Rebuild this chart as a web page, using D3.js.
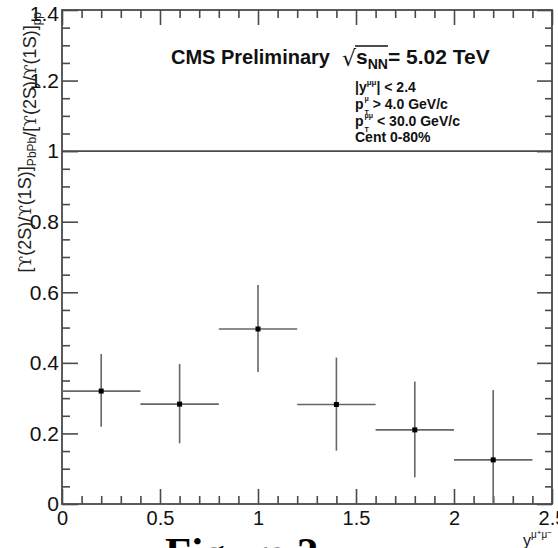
<!DOCTYPE html>
<html><head><meta charset="utf-8">
<script src="https://cdn.jsdelivr.net/npm/d3@7"></script>
<style>
html,body{margin:0;padding:0;background:#fff;overflow:hidden}
svg{display:block}
text{font-family:"Liberation Sans",Arial,Helvetica,sans-serif;white-space:pre}
</style></head>
<body>
<svg id="c" width="558" height="548"></svg>
<script>
// ---- data ----
const binCenters   = [0.2, 0.6, 1.0, 1.4, 1.8, 2.2];
const binHalfWidth = [0.2, 0.2, 0.2, 0.2, 0.2, 0.2];
const ratio        = [0.320, 0.283, 0.496, 0.282, 0.210, 0.125];
const errUp        = [0.105, 0.114, 0.125, 0.133, 0.137, 0.198];
const errDown      = [0.101, 0.111, 0.122, 0.131, 0.134, 0.198];
const xTicks       = [0, 0.5, 1, 1.5, 2, 2.5];
const xTickLabels  = ["0", "0.5", "1", "1.5", "2", "2.5"];
const yTicks       = [0, 0.2, 0.4, 0.6, 0.8, 1, 1.2, 1.4];
const yTickLabels  = ["0", "0.2", "0.4", "0.6", "0.8", "1", "1.2", "1.4"];
const refLine      = [1.0];

// ---- layout ----
const L = 62, R = 552, T = 10, B = 504;
const svg = d3.select("#c");
const x = d3.scaleLinear().domain([0, 2.5]).range([L, R]);
const y = d3.scaleLinear().domain([0, 1.4]).range([B, T]);
const xMinor = d3.range(0, 2.5001, 0.1).filter(v => Math.abs(v / 0.5 - Math.round(v / 0.5)) > 1e-6);
const yMinor = d3.range(0, 1.4001, 0.05).filter(v => Math.abs(v / 0.2 - Math.round(v / 0.2)) > 1e-6);
const axCol = "#4a4a4a";

function styleAxis(g, fs) {
  g.select(".domain").remove();
  g.selectAll("line").attr("stroke", axCol).attr("stroke-width", 1.6);
  g.selectAll("text").attr("fill", "#111").style("font-size", fs + "px")
   .style("font-family", '"Liberation Sans",Arial,sans-serif');
}
// left
svg.append("g").attr("transform", `translate(${L},0)`)
  .call(d3.axisLeft(y).tickValues(yTicks).tickSize(-16).tickPadding(3).tickFormat((d, i) => yTickLabels[i]))
  .call(g => styleAxis(g, 21))
  .call(g => g.selectAll(".tick text").filter(d => d === 1.4).attr("dy", "0.5em"));
svg.append("g").attr("transform", `translate(${L},0)`)
  .call(d3.axisLeft(y).tickValues(yMinor).tickSize(-8).tickFormat(""))
  .call(g => styleAxis(g, 21));
// right
svg.append("g").attr("transform", `translate(${R},0)`)
  .call(d3.axisRight(y).tickValues(yTicks).tickSize(-15).tickFormat(""))
  .call(g => styleAxis(g, 21));
svg.append("g").attr("transform", `translate(${R},0)`)
  .call(d3.axisRight(y).tickValues(yMinor).tickSize(-7).tickFormat(""))
  .call(g => styleAxis(g, 21));
// bottom
svg.append("g").attr("transform", `translate(0,${B})`)
  .call(d3.axisBottom(x).tickValues(xTicks).tickSize(-15).tickPadding(7).tickFormat((d, i) => xTickLabels[i]))
  .call(g => styleAxis(g, 20));
svg.append("g").attr("transform", `translate(0,${B})`)
  .call(d3.axisBottom(x).tickValues(xMinor).tickSize(-8).tickFormat(""))
  .call(g => styleAxis(g, 20));
// top
svg.append("g").attr("transform", `translate(0,${T})`)
  .call(d3.axisTop(x).tickValues(xTicks).tickSize(-15).tickFormat(""))
  .call(g => styleAxis(g, 20));
svg.append("g").attr("transform", `translate(0,${T})`)
  .call(d3.axisTop(x).tickValues(xMinor).tickSize(-8).tickFormat(""))
  .call(g => styleAxis(g, 20));

// frame
svg.append("rect").attr("x", L).attr("y", T).attr("width", R - L).attr("height", B - T)
  .attr("fill", "none").attr("stroke", axCol).attr("stroke-width", 1.8);

// reference line
svg.selectAll("line.ref").data(refLine).enter().append("line").attr("class", "ref")
  .attr("x1", L).attr("x2", R).attr("y1", d => y(d)).attr("y2", d => y(d))
  .attr("stroke", axCol).attr("stroke-width", 1.6);

// data
const pts = binCenters.map((c, i) => ({c, hw: binHalfWidth[i], v: ratio[i], up: errUp[i], dn: errDown[i]}));
const eb = svg.append("g").attr("stroke", "#666").attr("stroke-width", 1.6);
eb.selectAll("line.h").data(pts).enter().append("line")
  .attr("x1", d => x(d.c - d.hw)).attr("x2", d => x(d.c + d.hw))
  .attr("y1", d => y(d.v)).attr("y2", d => y(d.v));
eb.selectAll("line.v").data(pts).enter().append("line")
  .attr("x1", d => x(d.c)).attr("x2", d => x(d.c))
  .attr("y1", d => y(Math.min(1.4, d.v + d.up))).attr("y2", d => y(Math.max(0, d.v - d.dn)));
svg.selectAll("rect.pt").data(pts).enter().append("rect")
  .attr("x", d => x(d.c) - 2.5).attr("y", d => y(d.v) - 2.5)
  .attr("width", 5).attr("height", 5).attr("fill", "#000");

// helper: one text element built of tspans, with optional stacked sub/superscripts
function rich(x0, yb, pieces, weight) {
  const t = svg.append("text").attr("x", x0).attr("y", yb).attr("fill", "#111")
    .style("font-weight", weight);
  let cx = x0, lastStart = x0;
  pieces.forEach(p => {
    const px = p.stack ? lastStart : cx + (p.gap || 0);
    const ts = t.append("tspan").attr("x", px).attr("y", yb + (p.dy || 0))
      .style("font-size", p.size + "px").text(p.t);
    if (p.bold === false) ts.style("font-weight", "normal");
    const w = ts.node().getComputedTextLength();
    if (p.stack) cx = Math.max(cx, px + w);
    else { lastStart = px; cx = px + w; }
  });
  return cx;
}

// CMS Preliminary
svg.append("text").attr("x", 171).attr("y", 64).style("font-size", "20px").style("font-weight", "bold")
  .attr("fill", "#111").text("CMS Preliminary");
// sqrt(s_NN) = 5.02 TeV
const sq = svg.append("text").attr("x", 342).attr("y", 66).style("font-size", "22px")
  .style("font-family", '"DejaVu Sans",sans-serif').attr("fill", "#111").text("\u221A");
const sqEnd = 342 + sq.node().getComputedTextLength();
const endS = rich(sqEnd, 64, [
  {t: "s", size: 21},
  {t: "NN", size: 14, dy: 5}
], "bold");
svg.append("line").attr("x1", sqEnd - 1).attr("x2", endS).attr("y1", 46).attr("y2", 46)
  .attr("stroke", "#111").attr("stroke-width", 1.3);
rich(endS, 64, [{t: "= 5.02 TeV", size: 21}], "bold");

// kinematic cuts
rich(355, 92, [
  {t: "|y", size: 14}, {t: "\u03BC\u03BC", size: 8, dy: -7}, {t: "| < 2.4", size: 14}
], "bold");
rich(355, 109, [
  {t: "p", size: 14}, {t: "T", size: 7, dy: 6, gap: 1}, {t: "\u03BC", size: 7, dy: -8, stack: true},
  {t: " > 4.0 GeV/c", size: 14}
], "bold");
rich(355, 126, [
  {t: "p", size: 14}, {t: "T", size: 7, dy: 6, gap: 1}, {t: "\u03BC\u03BC", size: 7, dy: -8, stack: true},
  {t: " < 30.0 GeV/c", size: 14}
], "bold");
rich(355, 142, [{t: "Cent 0-80%", size: 14}], "bold");

// y axis title (rotated)
const yt = svg.append("text").attr("transform", "translate(31,12) rotate(-90)")
  .attr("text-anchor", "end").attr("fill", "#222").style("font-size", "18px");
const ups = "\u03D2";
const grp = () => [["["], [ups, true], ["(2S)/"], [ups, true], ["(1S)]"]];
function addGrp(sub) {
  grp().forEach(([s, ser]) => {
    const ts = yt.append("tspan").text(s);
    if (ser) ts.style("font-family", '"DejaVu Serif","Liberation Serif",serif').style("font-size", "17px");
  });
  yt.append("tspan").attr("dy", 5).style("font-size", "12px").text(sub);
  yt.append("tspan").attr("dy", -5).text("");
}
addGrp("PbPb");
yt.append("tspan").text("/");
addGrp("pp");

// x axis title
rich(523, 546, [
  {t: "y", size: 16, bold: false}, {t: "\u03BC", size: 10, dy: -8, bold: false},
  {t: "+", size: 8, dy: -11, bold: false}, {t: "\u03BC", size: 10, dy: -8, bold: false},
  {t: "\u2212", size: 8, dy: -11, bold: false}
], "normal");

// caption remnant
svg.append("text").attr("x", 165).attr("y", 567)
  .style("font-family", '"Liberation Serif","Times New Roman",serif')
  .style("font-size", "43px").style("font-weight", "bold").attr("fill", "#000").text("Figure 2");
</script>
</body></html>
